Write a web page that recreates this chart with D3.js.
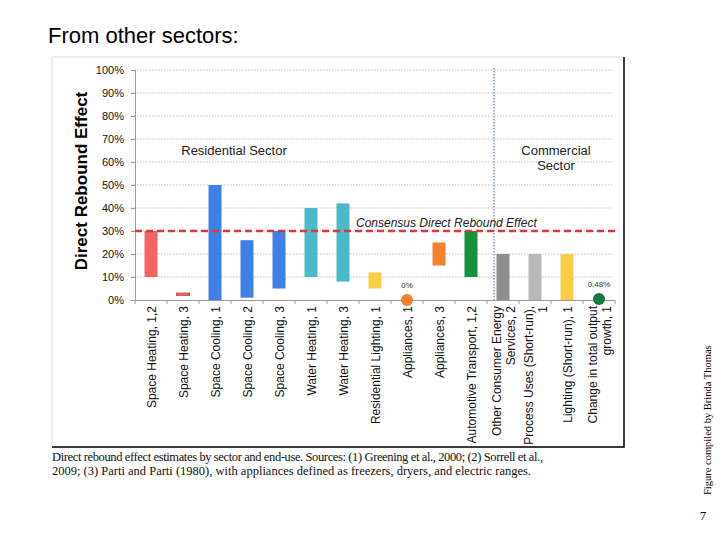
<!DOCTYPE html>
<html><head><meta charset="utf-8">
<script src="https://cdn.jsdelivr.net/npm/d3@7"></script>
<style>body{margin:0;background:#fff}svg{display:block}</style>
</head><body>
<svg id="c" width="720" height="540"></svg>
<script>
const categories = [
  ["Space Heating, 1,2"],
  ["Space Heating, 3"],
  ["Space Cooling, 1"],
  ["Space Cooling, 2"],
  ["Space Cooling, 3"],
  ["Water Heating, 1"],
  ["Water Heating, 3"],
  ["Residential Lighting, 1"],
  ["Appliances, 1"],
  ["Appliances, 3"],
  ["Automotive Transport, 1,2"],
  ["Other Consumer Energy", "Services, 2"],
  ["Process Uses (Short-run),", "1"],
  ["Lighting (Short-run), 1"],
  ["Change in total output", "growth, 1"]
];
const groups = ["heating","heating","cooling","cooling","cooling","water","water","lighting","appliance","appliance","transport","other","process","lighting","output"];
const lows  = [10, 2, 0, 1, 5, 10, 8, 5, null, 15, 10, 0, 0, 0, null];
const highs = [30, 3, 50, 26, 30, 40, 42, 12, null, 25, 30, 20, 20, 20, null];
const pointValues = [null,null,null,null,null,null,null,null,0,null,null,null,null,null,0.48];
const pointLabels = [null,null,null,null,null,null,null,null,"0%",null,null,null,null,null,"0.48%"];
const yTicks = [0,10,20,30,40,50,60,70,80,90,100];
const consensus = 30;

const colors = {heating:"#f46464",cooling:"#3f80e6",water:"#4cb8cc",lighting:"#fecd48",
  appliance:"#f5812f",transport:"#17903c",other:"#8e8e8e",process:"#b8b8b8",output:"#137a3c"};

const svg = d3.select("#c");
const keys = categories.map((c,i)=>i);
const x = d3.scaleBand().domain(keys).range([135,615]);
const y = d3.scaleLinear().domain([0,100]).range([300,70]);

// title
svg.append("text").attr("x",48).attr("y",43).attr("font-family","Liberation Sans, Arial").attr("font-size",22).text("From other sectors:");

// frame
svg.append("rect").attr("x",52).attr("y",57).attr("width",572).attr("height",390).attr("fill","none").attr("stroke","#dcdcdc");
svg.append("path").attr("d","M624,57V447H52").attr("fill","none").attr("stroke","#000").attr("stroke-width",1.5);

// gridlines
svg.append("g").selectAll("line").data(yTicks.slice(1)).join("line")
  .attr("x1",131).attr("x2",613).attr("y1",d=>y(d)).attr("y2",d=>y(d))
  .attr("stroke","#b0b0b0").attr("stroke-width",0.8).attr("stroke-dasharray","1.5,1.5");

// y axis
const ya = svg.append("g").attr("transform","translate(135,0)")
  .call(d3.axisLeft(y).tickValues(yTicks).tickFormat(d=>d+"%").tickSize(4).tickPadding(7));
ya.select(".domain").attr("stroke","#999");
ya.selectAll(".tick line").attr("stroke","#999");
ya.selectAll("text").attr("font-family","Liberation Sans, Arial").attr("font-size",11).attr("fill","#111");

// x axis line and ticks at band boundaries
svg.append("line").attr("x1",135).attr("x2",615).attr("y1",300.5).attr("y2",300.5).attr("stroke","#999");
svg.append("g").selectAll("line").data(d3.range(categories.length+1)).join("line")
  .attr("x1",d=>135+d*x.step()).attr("x2",d=>135+d*x.step()).attr("y1",300).attr("y2",304)
  .attr("stroke","#999");

// y title
svg.append("text").attr("transform","translate(87,181) rotate(-90)").attr("text-anchor","middle")
  .attr("font-family","Liberation Sans, Arial").attr("font-weight","bold").attr("font-size",17).text("Direct Rebound Effect");

// sector divider
const divX = x(11) + 7;
svg.append("line").attr("x1",divX).attr("x2",divX).attr("y1",68).attr("y2",300)
  .attr("stroke","#7f9bc0").attr("stroke-width",1.5).attr("stroke-dasharray","1.5,1.5");

// bars
const bw = 13;
const barData = keys.filter(i=>lows[i]!==null);
svg.append("g").selectAll("rect").data(barData).join("rect")
  .attr("x",i=>x(i)+x.bandwidth()/2-bw/2).attr("width",bw)
  .attr("y",i=>y(highs[i])).attr("height",i=>y(lows[i])-y(highs[i]))
  .attr("fill",i=>colors[groups[i]])
  .attr("stroke",i=>(highs[i]-lows[i])<3?"#e04040":"none").attr("stroke-width",1);

// consensus line
svg.append("line").attr("x1",135).attr("x2",615).attr("y1",y(consensus)).attr("y2",y(consensus))
  .attr("stroke","#d9363e").attr("stroke-width",2.5).attr("stroke-dasharray","7,4");

// points
const ptData = keys.filter(i=>pointValues[i]!==null);
svg.append("g").selectAll("circle").data(ptData).join("circle")
  .attr("cx",i=>x(i)+x.bandwidth()/2).attr("cy",i=>y(pointValues[i])).attr("r",6)
  .attr("fill",i=>colors[groups[i]]);
svg.append("g").selectAll("text").data(ptData).join("text")
  .attr("x",i=>x(i)+x.bandwidth()/2).attr("y",i=>y(pointValues[i])-12).attr("text-anchor","middle")
  .attr("font-family","Liberation Sans, Arial").attr("font-size",8).attr("fill","#333").text(i=>pointLabels[i]);

// annotations
const ann = svg.append("g").attr("font-family","Liberation Sans, Arial").attr("font-size",13).attr("fill","#222");
ann.append("text").attr("x",234).attr("y",155).attr("text-anchor","middle").text("Residential Sector");
ann.append("text").attr("x",556).attr("y",155).attr("text-anchor","middle").text("Commercial");
ann.append("text").attr("x",556).attr("y",170).attr("text-anchor","middle").text("Sector");
ann.append("text").attr("x",356).attr("y",227).attr("font-style","italic").attr("font-size",12).text("Consensus Direct Rebound Effect");

// x labels
const xl = svg.append("g").selectAll("g").data(keys).join("g")
  .attr("transform",i=>`translate(${x(i)+x.bandwidth()/2},306) rotate(-90)`);
xl.each(function(i){
  const lines = categories[i];
  const n = lines.length;
  lines.forEach((t,k)=>{
    d3.select(this).append("text").attr("x",0).attr("y",(k-(n-1)/2)*14+4.5)
      .attr("text-anchor","end").attr("font-family","Liberation Sans, Arial").attr("font-size",12)
      .attr("fill","#111").text(t);
  });
});

// caption
const cap = svg.append("g").attr("font-family","Liberation Serif, Times New Roman").attr("font-size",12.5).attr("fill","#111");
cap.append("text").attr("x",52).attr("y",461).attr("textLength",491).text("Direct rebound effect estimates by sector and end-use.  Sources: (1) Greening et al., 2000; (2) Sorrell et al.,");
cap.append("text").attr("x",52).attr("y",475).text("2009; (3) Parti and Parti (1980), with appliances defined as freezers, dryers, and electric ranges.");

// side text
svg.append("text").attr("transform","translate(711,495) rotate(-90)").attr("font-family","Liberation Serif, Times New Roman")
  .attr("font-size",10.5).text("Figure compiled by Brinda Thomas");
svg.append("text").attr("x",703).attr("y",520).attr("text-anchor","middle").attr("font-family","Liberation Serif, Times New Roman")
  .attr("font-size",13).text("7");
</script>
</body></html>
